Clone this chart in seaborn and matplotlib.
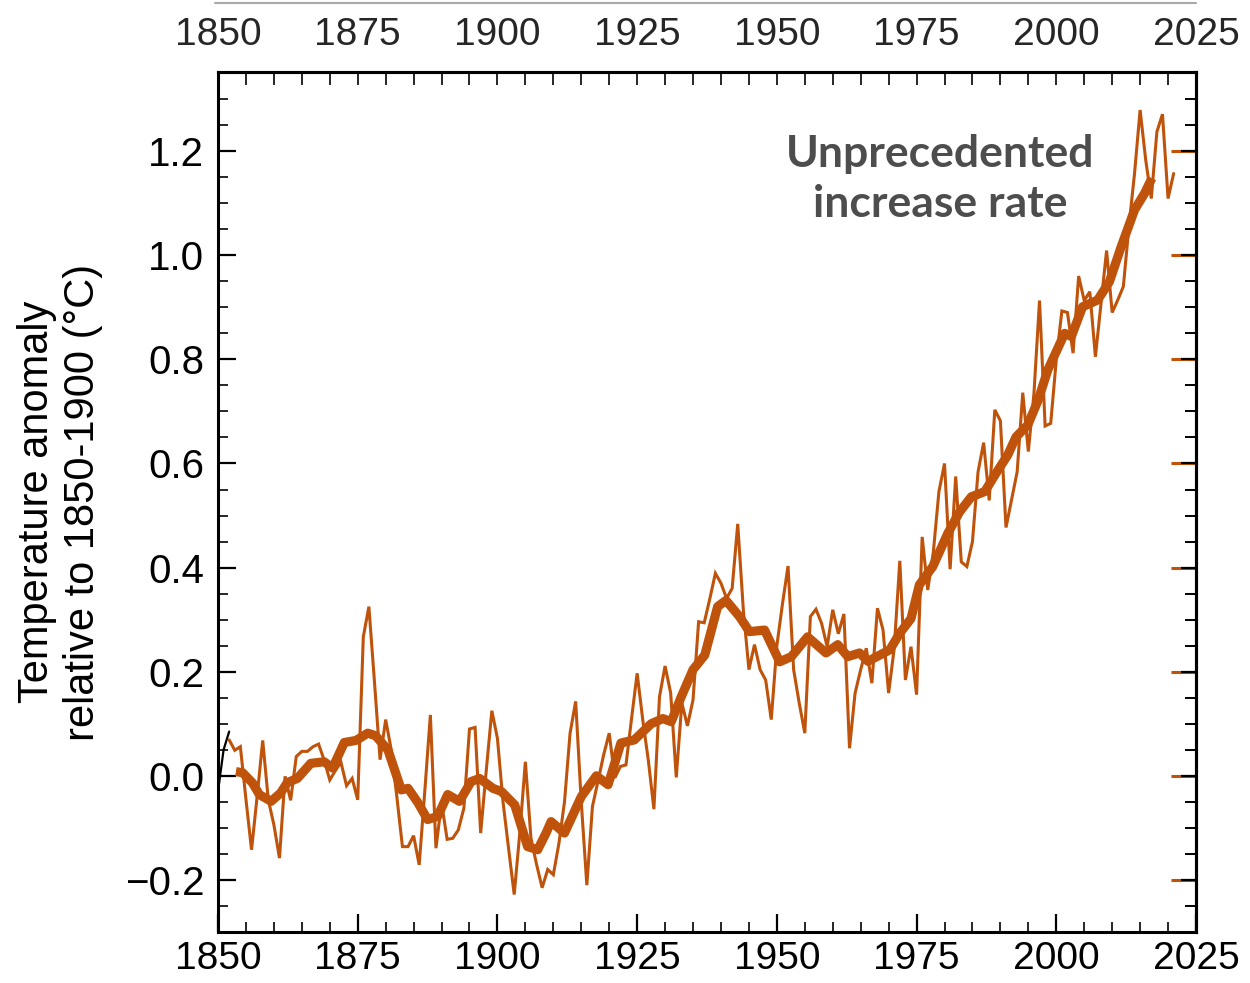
import matplotlib
matplotlib.use("Agg")
import matplotlib.pyplot as plt
import seaborn as sns
import pandas as pd
from matplotlib.ticker import MultipleLocator, FixedLocator
from matplotlib.lines import Line2D

# ---------------- data ----------------
years = list(range(1852, 2022))
annual = [
    0.069, 0.049, 0.056, -0.045, -0.142, -0.04, 0.068, -0.046, -0.094, -0.158,
    -0.001, -0.047, 0.037, 0.047, 0.047, 0.056, 0.061, 0.03, -0.008, 0.01,
    0.026, -0.019, -0.005, -0.046, 0.267, 0.325, 0.18, 0.031, 0.108, 0.05,
    -0.04, -0.136, -0.136, -0.115, -0.171, -0.03, 0.117, -0.139, -0.052, -0.122,
    -0.12, -0.104, -0.062, 0.090, 0.093, -0.110, 0.01, 0.125, 0.072, -0.05,
    -0.14, -0.228, -0.11, 0.027, -0.12, -0.17, -0.215, -0.18, -0.19, -0.13,
    -0.05, 0.082, 0.143, -0.05, -0.21, -0.059, -0.01, 0.04, 0.082, -0.004,
    0.018, 0.021, 0.11, 0.197, 0.108, 0.03, -0.064, 0.152, 0.211, 0.159,
    -0.003, 0.140, 0.096, 0.146, 0.296, 0.294, 0.34, 0.389, 0.370, 0.341,
    0.360, 0.484, 0.319, 0.204, 0.252, 0.204, 0.184, 0.108, 0.25, 0.33,
    0.403, 0.204, 0.14, 0.082, 0.306, 0.320, 0.293, 0.248, 0.319, 0.273,
    0.311, 0.053, 0.159, 0.204, 0.245, 0.178, 0.322, 0.280, 0.159, 0.245,
    0.413, 0.184, 0.248, 0.156, 0.459, 0.357, 0.43, 0.546, 0.600, 0.397,
    0.575, 0.411, 0.402, 0.450, 0.584, 0.640, 0.529, 0.703, 0.682, 0.477,
    0.53, 0.584, 0.736, 0.623, 0.734, 0.913, 0.672, 0.677, 0.799, 0.893,
    0.890, 0.812, 0.960, 0.913, 0.930, 0.805, 0.907, 1.009, 0.890, 0.914,
    0.940, 1.055, 1.157, 1.279, 1.183, 1.109, 1.237, 1.271, 1.109, 1.157,
]

smooth_years = [
    1853.2, 1854.4, 1856.2, 1857.4, 1859.5, 1861.2, 1862.4, 1864.2, 1866.6, 1869.0,
    1870.5, 1872.6, 1874.7, 1876.8, 1878.2, 1880.4, 1882.8, 1884.0, 1885.8, 1887.5,
    1889.3, 1891.1, 1893.2, 1895.3, 1896.8, 1899.2, 1900.7, 1903.1, 1905.4, 1907.2,
    1908.7, 1909.6, 1912.0, 1915.0, 1917.7, 1919.8, 1922.1, 1924.5, 1927.5, 1929.6,
    1931.1, 1932.9, 1935.0, 1937.1, 1939.4, 1940.9, 1943.3, 1945.1, 1947.8, 1950.5,
    1952.6, 1955.5, 1958.8, 1960.9, 1962.7, 1964.8, 1966.3, 1970.2, 1972.0, 1974.0,
    1975.5, 1977.9, 1980.6, 1982.7, 1984.8, 1987.2, 1989.2, 1991.3, 1992.8, 1994.9,
    1996.7, 1998.5, 2001.5, 2002.7, 2004.7, 2007.4, 2009.5, 2011.6, 2014.0, 2015.8,
    2017.1,
]
smooth_values = [
    0.008, 0.006, -0.014, -0.036, -0.049, -0.033, -0.013, -0.005, 0.024, 0.027,
    0.015, 0.064, 0.068, 0.082, 0.077, 0.05, -0.027, -0.024, -0.052, -0.084,
    -0.078, -0.036, -0.049, -0.011, -0.005, -0.024, -0.030, -0.056, -0.136, -0.142,
    -0.110, -0.088, -0.11, -0.04, 0.0, -0.017, 0.063, 0.069, 0.1, 0.11,
    0.104, 0.152, 0.204, 0.232, 0.325, 0.337, 0.306, 0.277, 0.280, 0.219,
    0.229, 0.267, 0.236, 0.252, 0.229, 0.236, 0.22, 0.242, 0.274, 0.302,
    0.367, 0.402, 0.466, 0.507, 0.536, 0.546, 0.581, 0.616, 0.651, 0.674,
    0.72, 0.780, 0.850, 0.844, 0.901, 0.914, 0.949, 1.016, 1.087, 1.119,
    1.148,
]

edge_years = [1849.5, 1851.0, 1852.0]
edge_values = [-0.07, 0.05, 0.085]

x_ticks = [1850, 1875, 1900, 1925, 1950, 1975, 2000, 2025]
y_ticks = [-0.2, 0.0, 0.2, 0.4, 0.6, 0.8, 1.0, 1.2]
y_label = "Temperature anomaly\nrelative to 1850-1900 (°C)"
note = "Unprecedented\nincrease rate"

# ---------------- style ----------------
sns.set_theme(style="ticks")
plt.rcParams["font.family"] = ["Liberation Sans", "DejaVu Sans"]
plt.rcParams["axes.unicode_minus"] = True

ORANGE = "#BF530B"
W, H, DPI = 1250, 983, 100
fig = plt.figure(figsize=(W / DPI, H / DPI), dpi=DPI)
ax = fig.add_axes([218 / W, 1 - 932 / H, (1196 - 218) / W, (932 - 72) / H])

df_a = pd.DataFrame({"year": years, "anom": annual})
df_s = pd.DataFrame({"year": smooth_years, "anom": smooth_values})
df_e = pd.DataFrame({"year": edge_years, "anom": edge_values})

sns.lineplot(data=df_e, x="year", y="anom", ax=ax, color="black", linewidth=1.6)
sns.lineplot(data=df_a, x="year", y="anom", ax=ax, color=ORANGE, linewidth=2.2,
             solid_joinstyle="miter")
sns.lineplot(data=df_s, x="year", y="anom", ax=ax, color=ORANGE, linewidth=6.6,
             solid_joinstyle="round", solid_capstyle="butt")

ax.set_xlim(1850, 2025)
ax.set_ylim(-0.30, 1.352)
ax.set_xlabel("")
ax.set_ylabel("")

for s in ax.spines.values():
    s.set_linewidth(2.2)
    s.set_color("black")
    s.set_visible(True)

TS = 29
XS = 28
# bottom x axis
ax.xaxis.set_major_locator(FixedLocator(x_ticks))
ax.xaxis.set_minor_locator(MultipleLocator(5))
ax.tick_params(axis="x", which="major", direction="in", length=13, width=1.6,
               bottom=True, top=False, labelsize=XS, pad=6.5, colors="black")
ax.tick_params(axis="x", which="minor", direction="in", length=7, width=1.4,
               bottom=True, top=False)

# left y axis
ax.yaxis.set_major_locator(FixedLocator(y_ticks))
ax.yaxis.set_minor_locator(MultipleLocator(0.05))
ax.set_yticklabels([f"{v:.1f}".replace("-", "\u2212") for v in y_ticks])
ax.tick_params(axis="y", which="major", direction="in", length=13, width=1.6,
               left=True, right=False, labelsize=TS, pad=10, colors="black")
ax.tick_params(axis="y", which="minor", direction="in", length=7, width=1.4,
               left=True, right=False)

# top x axis
secx = ax.secondary_xaxis("top")
secx.xaxis.set_major_locator(FixedLocator(x_ticks))
secx.xaxis.set_minor_locator(MultipleLocator(5))
secx.tick_params(axis="x", which="major", direction="in", length=9, width=1.4,
                 labelsize=XS, pad=14)
secx.tick_params(axis="x", which="minor", direction="in", length=9, width=1.4)
secx.spines["top"].set_linewidth(2.2)

# right y axis: orange marks under black ticks
sec_o = ax.secondary_yaxis("right")
sec_o.yaxis.set_major_locator(FixedLocator(y_ticks))
sec_o.yaxis.set_minor_locator(FixedLocator([]))
sec_o.tick_params(axis="y", which="major", direction="in", length=18, width=2.2,
                  color=ORANGE, labelright=False)
sec_o.spines["right"].set_linewidth(2.2)
sec_b = ax.secondary_yaxis("right")
sec_b.yaxis.set_major_locator(FixedLocator(y_ticks))
sec_b.yaxis.set_minor_locator(MultipleLocator(0.05))
sec_b.tick_params(axis="y", which="major", direction="in", length=11, width=1.6,
                  color="black", labelright=False)
sec_b.tick_params(axis="y", which="minor", direction="in", length=8, width=1.4,
                  color="black")
sec_b.spines["right"].set_linewidth(2.2)

# y label (two centred lines)
fig.text(60 / W, 1 - 502 / H, y_label, rotation=90, ha="center", va="center",
         multialignment="center", fontsize=30, linespacing=1.2, color="black")

# annotation
ax.text(0.738, 0.876, note, transform=ax.transAxes, ha="center", va="center",
        multialignment="center", fontsize=32, fontweight="bold",
        family=["Lato", "DejaVu Sans"], color="#4D4D4D", linespacing=1.3)

# thin grey rule at the very top
fig.add_artist(Line2D([215 / W, 1196 / W], [1 - 3 / H, 1 - 3 / H],
                      transform=fig.transFigure, color="#AAAAAA", linewidth=1.5))

fig.savefig("out.png", dpi=DPI, facecolor="white")
